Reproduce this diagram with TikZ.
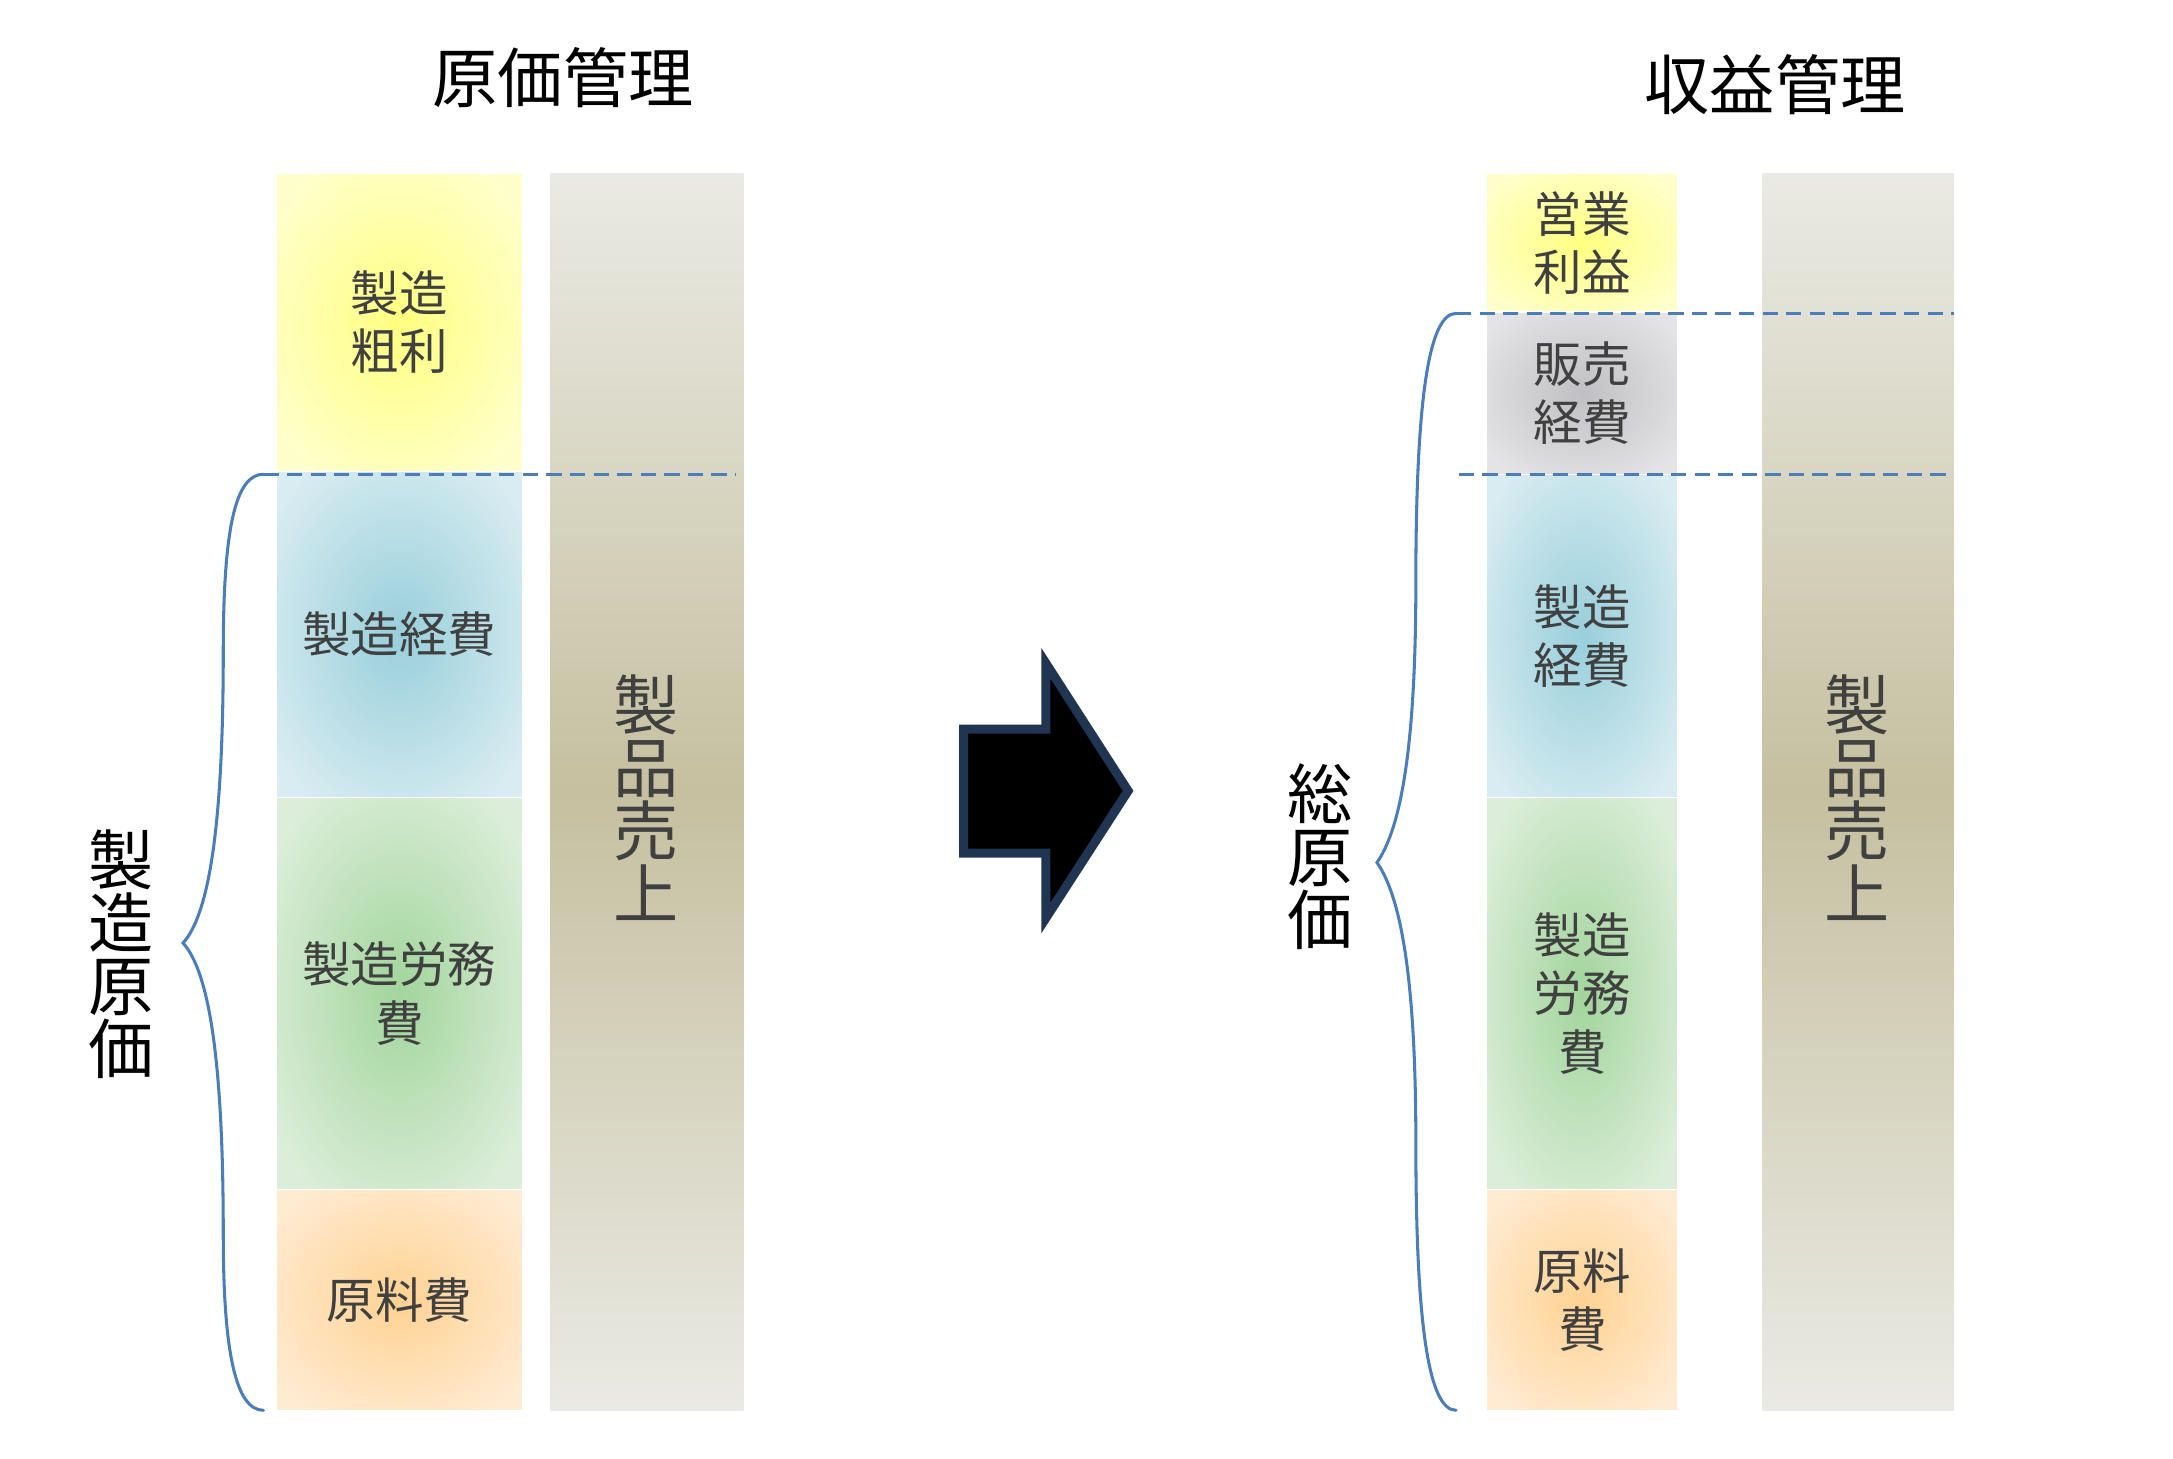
\documentclass[tikz,border=0pt]{standalone}
\usepackage{fontspec}
\setmainfont{Noto Sans CJK JP}
\definecolor{txt}{HTML}{404040}
\definecolor{lineblue}{HTML}{4A7EBB}
\definecolor{arrowedge}{HTML}{1F3552}
\definecolor{yin}{HTML}{FFFF80}\definecolor{yout}{HTML}{FFFFCC}
\definecolor{bin}{HTML}{98CFDB}\definecolor{bout}{HTML}{D8ECF1}
\definecolor{gin}{HTML}{A2D59C}\definecolor{gout}{HTML}{DCEEDA}
\definecolor{oin}{HTML}{FFD292}\definecolor{oout}{HTML}{FFEBD2}
\definecolor{grin}{HTML}{C0C0C4}\definecolor{grout}{HTML}{E4E4E6}
\definecolor{tanlight}{HTML}{EAEAE4}\definecolor{tandark}{HTML}{C6C0A0}
\pgfdeclareradialshading{yelshade}{\pgfpoint{0bp}{0bp}}{color(0bp)=(yin);color(31bp)=(yout);color(50bp)=(yout)}
\pgfdeclareradialshading{blushade}{\pgfpoint{0bp}{0bp}}{color(0bp)=(bin);color(31bp)=(bout);color(50bp)=(bout)}
\pgfdeclareradialshading{grnshade}{\pgfpoint{0bp}{0bp}}{color(0bp)=(gin);color(31bp)=(gout);color(50bp)=(gout)}
\pgfdeclareradialshading{orgshade}{\pgfpoint{0bp}{0bp}}{color(0bp)=(oin);color(31bp)=(oout);color(50bp)=(oout)}
\pgfdeclareradialshading{gryshade}{\pgfpoint{0bp}{0bp}}{color(0bp)=(grin);color(31bp)=(grout);color(50bp)=(grout)}
\pgfdeclareverticalshading{tanshade}{100bp}{color(0bp)=(tanlight);color(25bp)=(tanlight);color(50bp)=(tandark);color(75bp)=(tanlight);color(100bp)=(tanlight)}
\begin{document}
\begin{tikzpicture}[x=1pt,y=-1pt,
  blk/.style={draw=white, line width=0.8pt, inner sep=0pt, align=center, text=txt,
    font=\fontsize{35}{42}\selectfont},
  salescol/.style={inner sep=0pt, shading=tanshade},
  vtext/.style={inner sep=0pt, align=center, font=\fontsize{47}{45.5}\selectfont},
  title/.style={inner sep=0pt, font=\fontsize{47}{50}\selectfont, text=black},
  bracestyle/.style={draw=lineblue, line width=2.2pt, line cap=round},
  dashstyle/.style={draw=lineblue, line width=2.2pt, dash pattern=on 11pt off 6pt},
  arrowstyle/.style={draw=arrowedge, fill=black, line width=6.5pt, line join=miter}]
\useasboundingbox (0,0) rectangle (1567,1052);

% titles
\node[title] (t1) at (406,56) {原価管理};
\node[title] (t2) at (1280,61) {収益管理};

% left stack
\node[blk, shading=yelshade, minimum width=178pt, minimum height=215pt] (lyel) at (288,232.5) {製造\\粗利};
\node[blk, shading=blushade, minimum width=178pt, minimum height=235pt] (lblu) at (288,457.5) {製造経費};
\node[blk, shading=grnshade, minimum width=178pt, minimum height=283pt] (lgrn) at (288,716.5) {製造労務\\費};
\node[blk, shading=orgshade, minimum width=178pt, minimum height=159pt] (lorg) at (288,937.5) {原料費};
\node[salescol, minimum width=139pt, minimum height=892pt] (lsal) at (466.5,571) {};
\node[vtext, text=txt] (lsaltxt) at (466,575) {製\\品\\売\\上};

% right stack
\node[blk, shading=yelshade, minimum width=138pt, minimum height=100pt] (ryel) at (1141,175) {営業\\利益};
\node[blk, shading=gryshade, minimum width=138pt, minimum height=117pt] (rgry) at (1141,283.5) {販売\\経費};
\node[blk, shading=blushade, minimum width=138pt, minimum height=233pt] (rblu) at (1141,458.5) {製造\\経費};
\node[blk, shading=grnshade, minimum width=138pt, minimum height=283pt] (rgrn) at (1141,716.5) {製造\\労務\\費};
\node[blk, shading=orgshade, minimum width=138pt, minimum height=159pt] (rorg) at (1141,937.5) {原料\\費};
\node[salescol, minimum width=138pt, minimum height=892pt] (rsal) at (1340,571) {};
\node[vtext, text=txt] (rsaltxt) at (1339,575) {製\\品\\売\\上};

% brace labels
\node[vtext, text=black] (lcost) at (87,688) {製\\造\\原\\価};
\node[vtext, text=black] (rcost) at (952,617.5) {総\\原\\価};

% left brace and dashed line
\coordinate (lbt) at (190,342);
\coordinate (ltip) at (132,680);
\coordinate (lbb) at (190,1017);
\coordinate (lde) at (531,342);
\draw[dashstyle] (lbt) -- (lde);
\draw[bracestyle] (lbt) .. controls (170,342) and (161,380) .. (161,470)
  .. controls (161,600) and (150,660) .. (ltip)
  .. controls (150,700) and (161,760) .. (161,890)
  .. controls (161,975) and (170,1017) .. (lbb);

% right brace and dashed lines
\coordinate (rbt) at (1050,226);
\coordinate (rtip) at (993,622);
\coordinate (rbb) at (1050,1017);
\coordinate (rde1) at (1409,226);
\coordinate (rds2) at (1052,342);
\coordinate (rde2) at (1409,342);
\draw[dashstyle] (rbt) -- (rde1);
\draw[dashstyle] (rds2) -- (rde2);
\draw[bracestyle] (rbt) .. controls (1030,226) and (1021,290) .. (1021,420)
  .. controls (1021,550) and (1008,600) .. (rtip)
  .. controls (1008,644) and (1021,694) .. (1021,824)
  .. controls (1021,954) and (1030,1017) .. (rbb);

% block arrow
\draw[arrowstyle] (694.9,525.8) -- (754.2,525.8) -- (754.2,478.3) -- (813.5,570.3)
  -- (754.2,662) -- (754.2,615.2) -- (694.9,615.2) -- cycle;
\end{tikzpicture}
\end{document}
